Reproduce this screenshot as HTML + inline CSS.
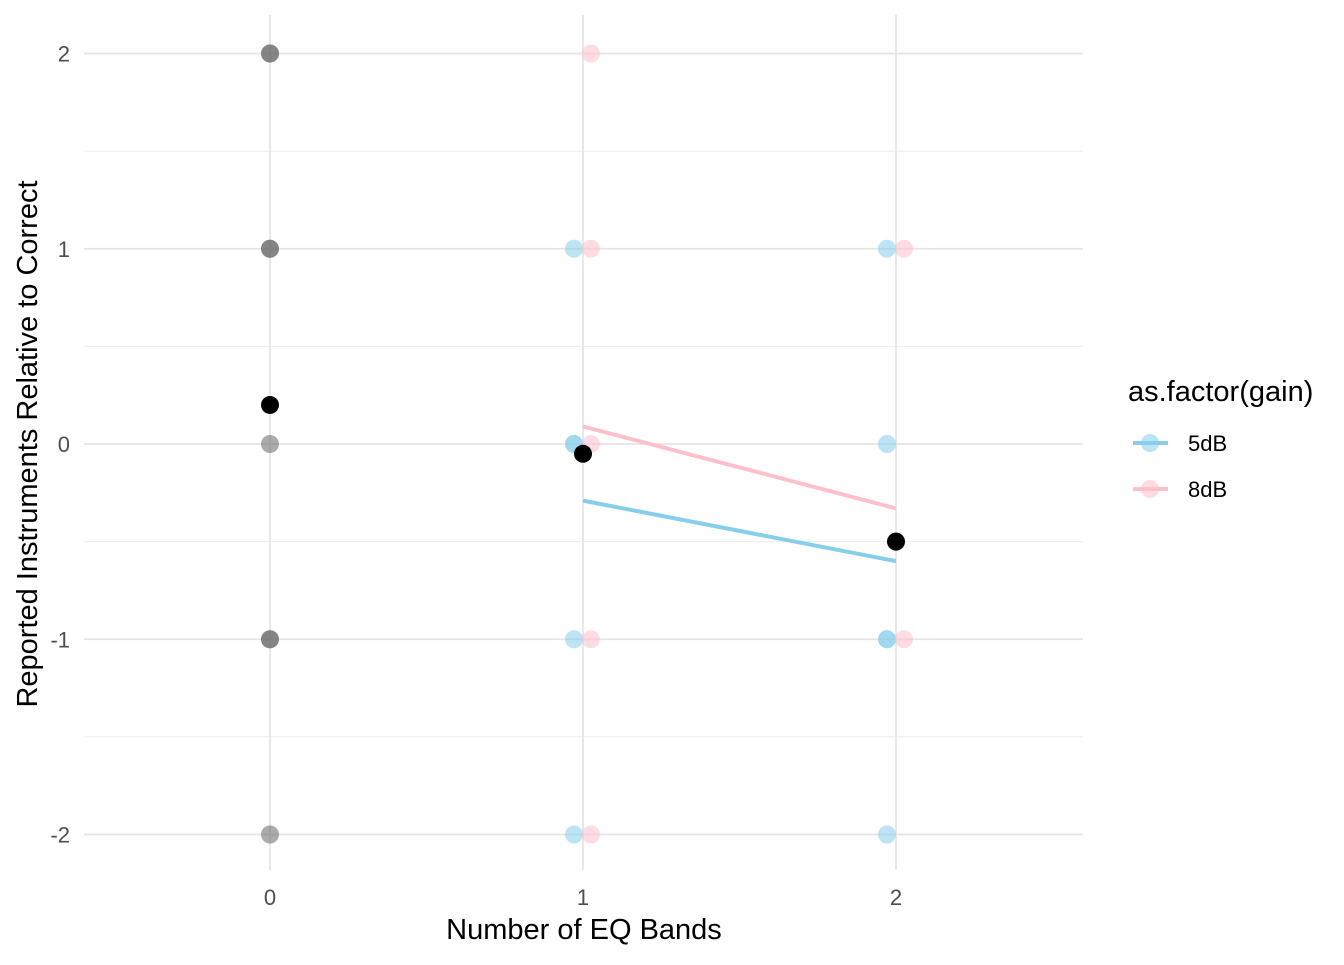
<!DOCTYPE html>
<html><head><meta charset="utf-8"><style>
html,body{margin:0;padding:0;background:#fff;}
svg text{font-family:"Liberation Sans",sans-serif;}
</style></head><body>
<svg id="chart" width="1344" height="960" xmlns="http://www.w3.org/2000/svg">
<g id="grid"></g>
<g id="marks"></g>
<text x="584" y="939" text-anchor="middle" font-size="29" fill="#000">Number of EQ Bands</text>
<text transform="translate(37,444) rotate(-90)" text-anchor="middle" font-size="29" fill="#000">Reported Instruments Relative to Correct</text>
<g>
<text x="1128" y="401" font-size="29" fill="#000">as.factor(gain)</text>
<g>
<line x1="1133" y1="443" x2="1168" y2="443" stroke="#87ceeb" stroke-width="4"/>
<circle cx="1150" cy="443" r="9" fill="#87ceeb" opacity="0.55"/>
<text x="1188" y="451" font-size="22" fill="#000">5dB</text></g>
<g>
<line x1="1133" y1="489" x2="1168" y2="489" stroke="#ffc0cb" stroke-width="4"/>
<circle cx="1150" cy="489" r="9" fill="#ffc0cb" opacity="0.55"/>
<text x="1188" y="497" font-size="22" fill="#000">8dB</text></g>
</g>
</svg>
<script>
const xTicks=[0,1,2];
const yTicks=[-2,-1,0,1,2];
const grayX=[0,0,0,0,0,0,0,0];
const grayY=[2,2,1,1,0,-1,-1,-2];
const blueX=[1,1,1,1,1,2,2,2,2,2];
const blueY=[1,0,0,-1,-2,1,0,-1,-1,-2];
const pinkX=[1,1,1,1,1,2,2];
const pinkY=[2,1,0,-1,-2,1,-1];
const meanX=[0,1,2];
const meanY=[0.2,-0.05,-0.5];
const blueLineX=[1,2], blueLineY=[-0.29,-0.6];
const pinkLineX=[1,2], pinkLineY=[0.09,-0.33];
const sx=v=>270+v*313;
const sy=v=>444-v*195.25;
const NS="http://www.w3.org/2000/svg";
const grid=document.getElementById('grid'), marks=document.getElementById('marks'), svg=document.getElementById('chart');
function mk(p,tag,a){const e=document.createElementNS(NS,tag);for(const k in a)e.setAttribute(k,a[k]);p.appendChild(e);return e;}
for(let v=-1.5;v<=1.5;v+=1){const l=mk(grid,'line',{x1:84,x2:1083,y1:sy(v),y2:sy(v),stroke:'#ebebeb','stroke-width':1});

}
yTicks.forEach(v=>{const l=mk(grid,'line',{x1:84,x2:1083,y1:sy(v),y2:sy(v),stroke:'#e5e5e5','stroke-width':1.8});


const t=mk(svg,'text',{x:70,y:sy(v)+8,'text-anchor':'end','font-size':22,fill:'#4d4d4d'});t.textContent=v;

});
xTicks.forEach(v=>{const l=mk(grid,'line',{x1:sx(v),x2:sx(v),y1:15,y2:870,stroke:'#e5e5e5','stroke-width':1.8});


const t=mk(svg,'text',{x:sx(v),y:905,'text-anchor':'middle','font-size':22,fill:'#4d4d4d'});t.textContent=v;

});
function pts(X,Y,off,col,name){X.forEach((x,i)=>{const c=mk(marks,'circle',{cx:sx(x)+off,cy:sy(Y[i]),r:9,fill:col,opacity:0.55});

});}
pts(grayX,grayY,0,'#666','point-overall');
pts(blueX,blueY,-9,'#87ceeb','point-5db');
pts(pinkX,pinkY,8,'#ffc0cb','point-8db');
function line(X,Y,col,name){const l=mk(marks,'line',{x1:sx(X[0]),y1:sy(Y[0]),x2:sx(X[1]),y2:sy(Y[1]),stroke:col,'stroke-width':4});

}
line(pinkLineX,pinkLineY,'#ffc0cb','trend-line-8db');
line(blueLineX,blueLineY,'#87ceeb','trend-line-5db');
meanX.forEach((x,i)=>{const c=mk(marks,'circle',{cx:sx(x),cy:sy(meanY[i]),r:9,fill:'#000'});

});
</script>
</body></html>
